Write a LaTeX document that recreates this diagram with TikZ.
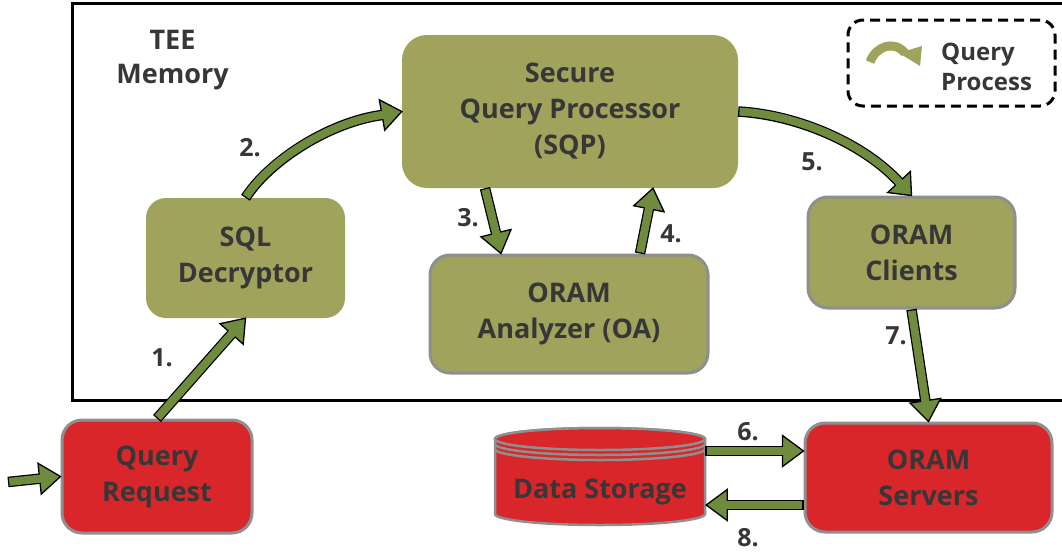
\documentclass[tikz,border=0pt]{standalone}
\usepackage{fontspec}
\setmainfont{Open Sans}
\usetikzlibrary{calc}
\definecolor{olivefill}{RGB}{159,163,92}
\definecolor{arrowgreen}{RGB}{111,140,62}
\definecolor{redfill}{RGB}{216,38,42}
\definecolor{bordergray}{RGB}{143,143,143}
\definecolor{txt}{RGB}{55,55,55}
\tikzset{
 box/.style={rounded corners=20pt, inner sep=0pt, align=center, font=\fontsize{27}{36}\selectfont\bfseries, text=txt, execute at begin node={\rule{0pt}{26pt}}},
 gbox/.style={box, fill=olivefill},
 gboxb/.style={gbox, draw=bordergray, line width=3pt},
 rbox/.style={box, fill=redfill, draw=bordergray, line width=3pt},
 numlabel/.style={font=\fontsize{25}{30}\selectfont\bfseries, text=txt, inner sep=0pt},
 shaftout/.style={draw=black, line width=10.5pt},
 shaftin/.style={draw=arrowgreen, line width=8pt, shorten <=1.3pt},
 headstyle/.style={fill=arrowgreen, draw=black, line width=1.3pt, line join=miter},
 cylline/.style={draw=bordergray, line width=2.5pt},
}
\newcommand\blockarrow[3]{%
  \draw[shaftout] #1;
  \filldraw[headstyle] ($(#2)!15.5pt!90:(#3)$) -- (#3) -- ($(#2)!15.5pt!-90:(#3)$) -- cycle;
  \draw[shaftin] #1;
  \draw[shaftin, shorten <=0pt] ($(#2)!-1pt!(#3)$) -- ($(#2)!2.5pt!(#3)$);
}
\newcommand\straightarrow[2]{%
  \path ($(#2)!21pt!(#1)$) coordinate (tmpb);
  \blockarrow{(#1) -- (tmpb)}{tmpb}{#2}
}
\begin{document}
\begin{tikzpicture}[x=1pt,y=-1pt]
\useasboundingbox (0,0) rectangle (1062,557);
\fill[white] (0,0) rectangle (1062,557);
% TEE frame
\draw[line width=3pt] (1062,3) -- (72,3) -- (72,400) -- (1062,400);
\node[box, execute at begin node={}, font=\fontsize{27}{34}\selectfont\bfseries] (tee) at (172.5,60) {TEE\\Memory};
% boxes
\node[gbox, rounded corners=25pt, minimum width=336pt, minimum height=153pt] (sqp) at (570,111.5) {Secure\\Query Processor\\(SQP)};
\node[gbox, minimum width=199pt, minimum height=120pt] (sql) at (245.5,258) {SQL\\Decryptor};
\node[gboxb, minimum width=278pt, minimum height=118pt] (oa) at (569,314) {ORAM\\Analyzer (OA)};
\node[gboxb, minimum width=207pt, minimum height=111pt] (cli) at (911.5,252.5) {ORAM\\Clients};
\node[rbox, minimum width=190pt, minimum height=113pt] (qr) at (157,476.5) {Query\\Request};
\node[rbox, minimum width=247pt, minimum height=109pt] (srv) at (928.5,477.5) {ORAM\\Servers};
% data storage cylinder
\node[inner sep=0pt, minimum width=210pt, minimum height=97pt] (ds) at (600,476.5) {};
\filldraw[fill=redfill, cylline] (495,439) -- (495,514) arc[start angle=180, end angle=360, x radius=105pt, y radius=11pt] -- (705,439) arc[start angle=0, end angle=180, x radius=105pt, y radius=11pt] -- cycle;
\filldraw[fill=redfill, cylline] (600,439) ellipse [x radius=105pt, y radius=11pt];
\draw[cylline] (495,444) arc[start angle=180, end angle=360, x radius=105pt, y radius=11pt];
\draw[cylline] (495,449) arc[start angle=180, end angle=360, x radius=105pt, y radius=11pt];
\node[box] (dstext) at (600,489) {Data Storage};
% legend
\node[draw, dashed, dash pattern=on 10pt off 6pt, line width=3pt, rounded corners=15pt, minimum width=207pt, minimum height=86pt] (legend) at (951.5,63) {};
\draw[olivefill, line width=9pt] (870,62) .. controls (876,46) and (894,40) .. (905,53);
\fill[olivefill] (899,53) -- (922,46) -- (920,66) -- cycle;
\node[box, execute at begin node={}, align=left, anchor=west, font=\fontsize{24}{30}\selectfont\bfseries] (legtext) at (941,67) {Query\\Process};
% arrows
\coordinate (ins) at (8,482);
\straightarrow{ins}{qr.west}
\coordinate (a1s) at (qr.north);
\coordinate (a1t) at (sql.south);
\straightarrow{a1s}{a1t}
\coordinate (a2s) at (sql.north);
\coordinate (a2t) at (sqp.west);
\coordinate (a2b) at (382,115);
\blockarrow{(a2s) .. controls (270,160) and (330,122) .. (a2b)}{a2b}{a2t}
\coordinate (a3s) at ($(sqp.south)+(-85,0)$);
\coordinate (a3t) at ($(oa.north)+(-68,0)$);
\straightarrow{a3s}{a3t}
\coordinate (a4s) at ($(oa.north)+(71,0)$);
\coordinate (a4t) at ($(sqp.south)+(83,0)$);
\straightarrow{a4s}{a4t}
\coordinate (a5s) at (sqp.east);
\coordinate (a5t) at (cli.north);
\coordinate (a5b) at (899,182);
\blockarrow{(a5s) .. controls (800,115) and (865,145) .. (a5b)}{a5b}{a5t}
\coordinate (a6s) at ($(ds.east)+(0,-25.5)$);
\coordinate (a6t) at ($(srv.west)+(0,-26.5)$);
\straightarrow{a6s}{a6t}
\coordinate (a7s) at (cli.south);
\coordinate (a7t) at (srv.north);
\straightarrow{a7s}{a7t}
\coordinate (a8s) at ($(srv.west)+(0,27.5)$);
\coordinate (a8t) at ($(ds.east)+(1,28.5)$);
\straightarrow{a8s}{a8t}
% labels
\node[numlabel] (l1) at (162,358) {1.};
\node[numlabel] (l2) at (250,148) {2.};
\node[numlabel] (l3) at (468,218) {3.};
\node[numlabel] (l4) at (671,234) {4.};
\node[numlabel] (l5) at (812,162) {5.};
\node[numlabel] (l6) at (748,432) {6.};
\node[numlabel] (l7) at (896,336) {7.};
\node[numlabel] (l8) at (748,538) {8.};
\end{tikzpicture}
\end{document}
